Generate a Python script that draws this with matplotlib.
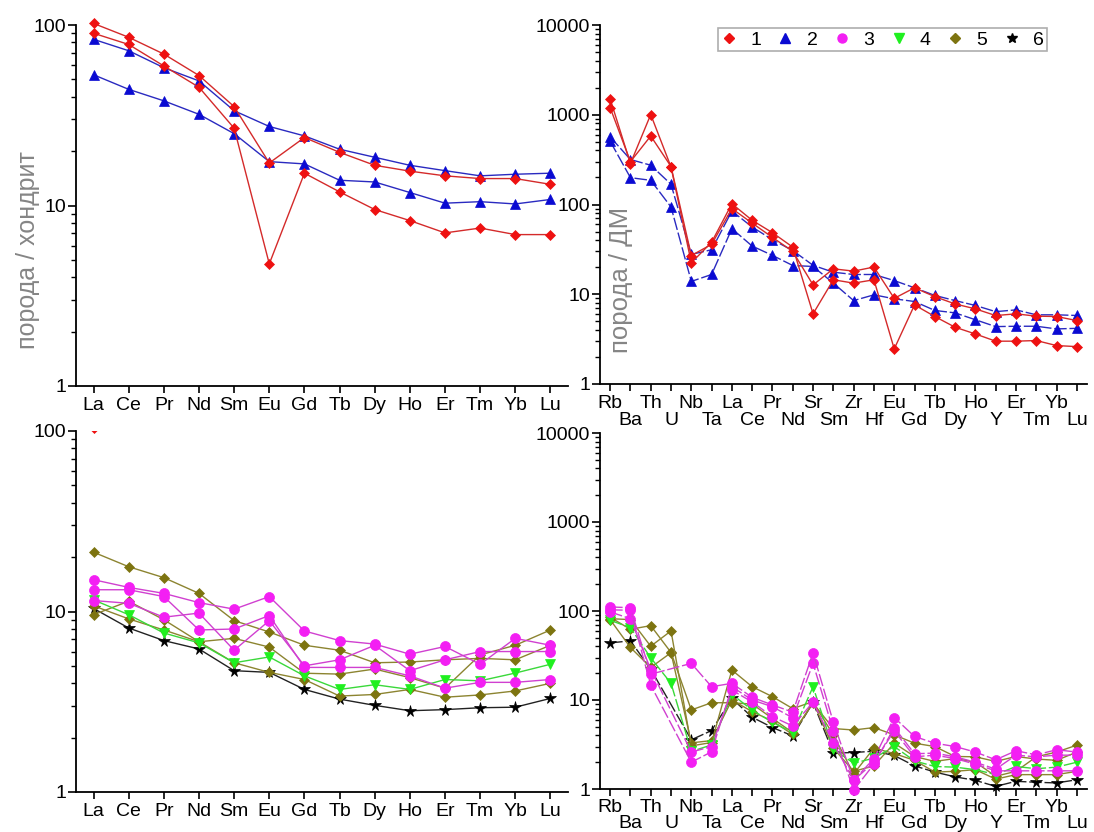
import numpy as np
import matplotlib
matplotlib.use("Agg")
import matplotlib.pyplot as plt
from matplotlib.lines import Line2D
from matplotlib.ticker import LogLocator, FixedLocator, FixedFormatter, FuncFormatter, NullFormatter
from matplotlib import font_manager

# ---------------- data ----------------
ree = ['La', 'Ce', 'Pr', 'Nd', 'Sm', 'Eu', 'Gd', 'Tb', 'Dy', 'Ho', 'Er', 'Tm', 'Yb', 'Lu']
spider = ['Rb', 'Ba', 'Th', 'U', 'Nb', 'Ta', 'La', 'Ce', 'Pr', 'Nd', 'Sr', 'Sm',
          'Zr', 'Hf', 'Eu', 'Gd', 'Tb', 'Dy', 'Ho', 'Y', 'Er', 'Tm', 'Yb', 'Lu']
legend_labels = ['1', '2', '3', '4', '5', '6']

# top-left: chondrite normalised, groups 1 (red) and 2 (blue)
tl_red_a = [102, 85.5, 69, 52.5, 35.3, 17.2, 23.8, 19.7, 16.7, 15.5, 14.6, 14.1, 14.1, 13.1]
tl_red_b = [90, 78, 59.3, 45.2, 26.8, 4.75, 15.1, 11.9, 9.5, 8.25, 7.05, 7.5, 6.9, 6.9]
tl_blue_a = [83.3, 72, 58, 49, 33.5, 27.4, 24.3, 20.5, 18.5, 16.7, 15.6, 14.6, 14.9, 15.1]
tl_blue_b = [53, 44, 38, 32, 25, 17.5, 17, 13.8, 13.5, 11.8, 10.3, 10.5, 10.2, 10.8]

# top-right: DM normalised, groups 1 (red) and 2 (blue)
tr_red_a = [1200, 300, 580, 265, 27, 36, 90, 62, 43, 30, 12.7, 19.2, 18.1, 20.1,
            9.0, 11.8, 9.4, 7.8, 6.87, 5.79, 6.05, 5.7, 5.65, 5.09]
tr_red_b = [1506, 286, 1006, 262, 22.4, 38, 102, 66.6, 48.5, 33.5, 6.05, 14.5, 13.3, 14.5,
            2.46, 7.6, 5.65, 4.29, 3.61, 3.0, 3.0, 3.05, 2.68, 2.61]
tr_blue_a = [567, 317, 274, 168, 27.8, 31.3, 84.6, 56.1, 40.5, 30.7, 21, 17.6, 16.6, 16.6,
             14.2, 11.8, 9.7, 8.5, 7.5, 6.4, 6.7, 5.9, 5.9, 5.8]
tr_blue_b = [507, 199, 186, 93.8, 13.9, 16.6, 53.8, 34.4, 27.1, 20.9, 20.4, 13.3, 8.5, 9.85,
             8.9, 8.3, 6.6, 6.2, 5.2, 4.36, 4.4, 4.4, 4.11, 4.17]

# bottom-left: chondrite normalised, groups 3-6
bl_red_top = [104]
bl_mag_a = [15.0, 13.6, 12.6, 11.2, 10.3, 12.1, 7.8, 6.9, 6.6, 5.8, 6.4, 5.1, 7.1, 6.5]
bl_mag_b = [13.2, 13.2, 12.1, 7.9, 8.0, 9.5, 4.9, 4.9, 4.9, 4.4, 3.76, 4.05, 4.05, 4.2]
bl_mag_c = [11.5, 11.1, 9.3, 9.8, 6.1, 8.9, 5.0, 5.4, 6.5, 4.7, 5.4, 6.0, 6.0, 6.0]
bl_green = [11.6, 9.6, 7.6, 6.7, 5.2, 5.6, 4.4, 3.7, 3.93, 3.7, 4.2, 4.13, 4.56, 5.1]
bl_olive_a = [21.3, 17.7, 15.4, 12.6, 8.9, 7.7, 6.5, 6.1, 5.2, 5.25, 5.4, 5.5, 5.4, 6.5]
bl_olive_b = [9.6, 11.4, 9.0, 6.8, 7.1, 6.35, 4.55, 4.5, 4.8, 4.3, 3.76, 5.75, 6.5, 7.9]
bl_olive_c = [10.75, 9.1, 7.9, 6.8, 5.2, 4.6, 4.2, 3.4, 3.47, 3.7, 3.35, 3.45, 3.63, 4.0]
bl_black = [10.4, 8.1, 6.9, 6.2, 4.7, 4.6, 3.7, 3.27, 3.02, 2.82, 2.86, 2.93, 2.95, 3.3]

# bottom-right: DM normalised, groups 3-6 (nan = not analysed)
nan = float('nan')
br_mag_a = [111, 109, 19.5, nan, 25.8, 14.1, 15.4, 10.7, 8.8, 7.3, 33.9, 5.62, 1.25, 2.2,
            6.35, 3.89, 3.27, 3.0, 2.6, 2.13, 2.69, 2.42, 2.76, 2.6]
br_mag_b = [103, 102, 14.7, nan, 2.0, 2.62, 14.1, 10.0, 8.4, 6.3, 25.8, 4.5, 0.97, 1.9,
            4.9, 2.49, 2.53, 2.3, 2.0, 1.67, 2.4, 2.3, 2.4, 2.4]
br_mag_c = [97.6, 82, 22, nan, 2.6, 3.0, 12.9, 9.5, 6.5, 5.1, 9.5, 3.27, 1.25, 2.0,
            4.5, 2.3, 2.4, 2.2, 1.9, 1.6, 1.6, 1.6, 1.6, 1.6]
br_green = [78.6, 65, 29.8, 15.4, 2.64, 3.13, 11.6, 7.7, 5.6, 4.3, 14.1, 2.8, 1.95, 2.22,
            3.0, 2.07, 1.79, 1.76, 1.65, 1.45, 1.79, 1.69, 1.76, 2.0]
br_olive_a = [82, 80, 40.2, 59.7, 3.05, 3.33, 21.7, 14.1, 10.9, 8.0, 9.6, 2.88, 1.58, 1.82,
              3.27, 2.32, 2.04, 2.2, 2.0, 1.39, 1.58, 2.3, 2.6, 3.11]
br_olive_b = [85, 62.3, 68.5, 34.2, 7.73, 9.33, 9.3, 9.0, 6.2, 4.3, 9.2, 4.78, 4.6, 4.9,
              4.06, 3.27, 3.0, 2.32, 2.3, 2.04, 2.32, 2.17, 2.1, 2.6]
br_olive_c = [80, 38.9, 23.2, 34.0, 3.3, 3.5, 10.0, 7.4, 5.8, 4.1, 9.4, 4.06, 1.48, 2.88,
              2.5, 2.1, 1.55, 1.58, 1.65, 1.29, 1.45, 1.45, 1.45, 1.58]
br_black = [43.8, 46.2, 22.2, nan, 3.57, 4.54, 10.4, 6.4, 4.9, 3.95, 9.4, 2.53, 2.57, 2.66,
            2.38, 1.82, 1.55, 1.37, 1.25, 1.07, 1.22, 1.19, 1.17, 1.27]

# ---------------- style ----------------
avail = {f.name for f in font_manager.fontManager.ttflist}
base_font = 'Liberation Sans' if 'Liberation Sans' in avail else 'DejaVu Sans'
plt.rcParams['font.family'] = [base_font, 'DejaVu Sans']

RED, RED_L = '#ee1111', '#d42a2a'
BLUE, BLUE_L = '#0a0ad2', '#2a2ac0'
MAG, MAG_L = '#f31ff3', '#d040d0'
GRN, GRN_L = '#1ff01f', '#3ad83a'
OLV, OLV_L = '#7d7410', '#8c8430'
BLK, BLK_L = '#000000', '#222222'

STY = {
    1: dict(color=RED, lc=RED_L, marker='D', ms=5.6),
    2: dict(color=BLUE, lc=BLUE_L, marker='^', ms=7.5),
    3: dict(color=MAG, lc=MAG_L, marker='o', ms=7.2),
    4: dict(color=GRN, lc=GRN_L, marker='v', ms=7.5),
    5: dict(color=OLV, lc=OLV_L, marker='D', ms=5.6),
    6: dict(color=BLK, lc=BLK_L, marker='*', ms=8.5),
}

W, H = 1094, 832
fig = plt.figure(figsize=(W / 100, H / 100), dpi=100)


def add_ax(l, t, r, b):
    return fig.add_axes([l / W, 1 - b / H, (r - l) / W, (b - t) / H])


def setup(ax, labels, ymax, two_rows, pad1=3, pad2=15.5):
    ax.set_yscale('log')
    ax.set_ylim(1, ymax)
    n = len(labels)
    ax.set_xlim(-0.5, n - 0.5)
    for s in ('top', 'right'):
        ax.spines[s].set_visible(False)
    for s in ('left', 'bottom'):
        ax.spines[s].set_linewidth(1.3)
    if two_rows:
        ax.xaxis.set_major_locator(FixedLocator(list(range(0, n, 2))))
        ax.xaxis.set_major_formatter(FixedFormatter(labels[0::2]))
        ax.xaxis.set_minor_locator(FixedLocator(list(range(1, n, 2))))
        ax.xaxis.set_minor_formatter(FixedFormatter(labels[1::2]))
        ax.tick_params(axis='x', which='minor', direction='out', length=5, width=1.2,
                       pad=pad2, labelsize=14)
    else:
        ax.xaxis.set_major_locator(FixedLocator(list(range(n))))
        ax.xaxis.set_major_formatter(FixedFormatter(labels))
    ax.tick_params(axis='x', which='major', direction='out', length=5, width=1.2, pad=pad1,
                   labelsize=14)
    ax.yaxis.set_major_locator(LogLocator(base=10, numticks=10))
    ax.yaxis.set_minor_locator(LogLocator(base=10, subs=np.arange(2, 10), numticks=10))
    ax.yaxis.set_major_formatter(FuncFormatter(lambda v, p: '%d' % round(v)))
    ax.yaxis.set_minor_formatter(NullFormatter())
    ax.tick_params(axis='y', which='major', direction='out', length=6, width=1.2, labelsize=14, pad=1)
    ax.tick_params(axis='y', which='minor', direction='out', length=3.5, width=1.0)
    ax.patch.set_alpha(0)


def draw(ax, vals, grp, dashed=False, clip=True):
    st = STY[grp]
    y = np.array(vals, dtype=float)
    x = np.arange(len(y))
    m = ~np.isnan(y)
    ax.plot(x[m], y[m], color=st['lc'], lw=1.0, ls=(0, (9, 2)) if dashed else '-',
            marker=st['marker'], ms=st['ms'], mfc=st['color'], mec=st['color'],
            mew=0.5, clip_on=clip, zorder=3)


ax_tl = add_ax(76, 25, 568, 386)
ax_tr = add_ax(600, 25, 1087, 384)
ax_bl = add_ax(76, 431, 568, 792)
ax_br = add_ax(600, 433, 1087, 789)

setup(ax_tl, ree, 100, False)
setup(ax_bl, ree, 100, False)
setup(ax_tr, spider, 10000, True)
setup(ax_br, spider, 10000, True, pad1=2, pad2=14)

# top-left
draw(ax_tl, tl_blue_b, 2, clip=False)
draw(ax_tl, tl_blue_a, 2, clip=False)
draw(ax_tl, tl_red_b, 1, clip=False)
draw(ax_tl, tl_red_a, 1, clip=False)

# top-right
draw(ax_tr, tr_blue_b, 2, dashed=True)
draw(ax_tr, tr_blue_a, 2, dashed=True)
draw(ax_tr, tr_red_b, 1)
draw(ax_tr, tr_red_a, 1)

# bottom-left
draw(ax_bl, bl_black, 6)
draw(ax_bl, bl_olive_c, 5)
draw(ax_bl, bl_olive_b, 5)
draw(ax_bl, bl_olive_a, 5)
draw(ax_bl, bl_green, 4)
draw(ax_bl, bl_mag_c, 3)
draw(ax_bl, bl_mag_b, 3)
draw(ax_bl, bl_mag_a, 3)
draw(ax_bl, bl_red_top, 1)

# bottom-right
draw(ax_br, br_black, 6, dashed=True, clip=False)
draw(ax_br, br_olive_c, 5, clip=False)
draw(ax_br, br_olive_b, 5, clip=False)
draw(ax_br, br_olive_a, 5, clip=False)
draw(ax_br, br_green, 4, dashed=True, clip=False)
draw(ax_br, br_mag_c, 3, dashed=True, clip=False)
draw(ax_br, br_mag_b, 3, dashed=True, clip=False)
draw(ax_br, br_mag_a, 3, dashed=True, clip=False)

# axis titles
fig.text(28 / W, 1 - 250 / H, 'порода / хондрит', rotation=90, ha='center', va='center',
         fontsize=18, color='#858585')
fig.text(621 / W, 1 - 280 / H, 'порода / ДМ', rotation=90, ha='center', va='center',
         fontsize=18.5, color='#858585')

# legend
handles = [Line2D([], [], ls='none', marker=STY[g]['marker'], ms=STY[g]['ms'] * 0.9,
                  mfc=STY[g]['color'], mec=STY[g]['color']) for g in range(1, 7)]
leg = ax_tr.legend(handles, legend_labels, ncol=6, loc='upper right',
                   bbox_to_anchor=(1047 / W, 1 - 28 / H), bbox_transform=fig.transFigure,
                   fontsize=14, frameon=True, fancybox=False, borderpad=0.15,
                   handlelength=0.8, handletextpad=0.7, columnspacing=0.85,
                   borderaxespad=0)
leg.get_frame().set_edgecolor('#9a9a9a')
leg.get_frame().set_linewidth(1.2)

fig.savefig('out.png', dpi=100, facecolor='white')
